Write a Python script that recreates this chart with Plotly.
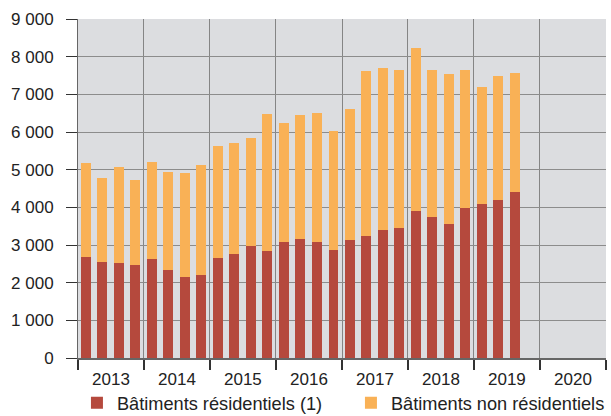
import plotly.graph_objects as go
from datetime import datetime

years = [2013, 2014, 2015, 2016, 2017, 2018, 2019]
quarters = [1, 2, 3, 4]

residentiels = [2680, 2550, 2520, 2470,
                2630, 2340, 2150, 2200,
                2655, 2760, 2970, 2840,
                3080, 3160, 3080, 2870,
                3130, 3240, 3400, 3450,
                3900, 3740, 3560, 3980,
                4090, 4195, 4405]
totaux = [5180, 4780, 5070, 4730,
          5200, 4940, 4910, 5125,
          5630, 5710, 5840, 6480,
          6240, 6450, 6505, 6030,
          6610, 7620, 7700, 7645,
          8230, 7645, 7540, 7645,
          7195, 7490, 7565]
non_residentiels = [t - r for t, r in zip(totaux, residentiels)]

periods = [(y, q) for y in years for q in quarters][:len(residentiels)]
x_dates = [datetime(y, 3 * (q - 1) + 2, 15) for y, q in periods]

bar_width_ms = 55 * 24 * 3600 * 1000

font_family = "Liberation Sans, Arial, sans-serif"
red = "#b5493d"
orange = "#f9b156"

fig = go.Figure()
fig.add_trace(go.Bar(x=x_dates, y=residentiels, name="Bâtiments résidentiels (1)",
                     marker=dict(color=red, line=dict(width=0)), width=bar_width_ms))
fig.add_trace(go.Bar(x=x_dates, y=non_residentiels, name="Bâtiments non résidentiels",
                     marker=dict(color=orange, line=dict(width=0)), width=bar_width_ms))

fig.update_layout(
    barmode="stack",
    width=611, height=416,
    margin=dict(l=78, r=5, t=19, b=58, autoexpand=False),
    paper_bgcolor="white",
    plot_bgcolor="#dcdde0",
    separators=", ",
    font=dict(family=font_family, size=17, color="#222222"),
    showlegend=True,
    legend=dict(orientation="h", x=-0.002, xanchor="left", y=-0.078, yanchor="top",
                font=dict(size=18.2, color="#222222"),
                entrywidth=229, entrywidthmode="pixels",
                traceorder="normal", bgcolor="rgba(0,0,0,0)"),
    xaxis=dict(
        type="date",
        range=[datetime(2013, 1, 1), datetime(2021, 1, 1)],
        dtick="M12", tick0="2013-01-01",
        ticklabelmode="period", tickformat="%Y",
        ticks="outside", ticklen=10, tickwidth=1.5, tickcolor="#333333",
        ticklabelstandoff=-5,
        showgrid=True, gridcolor="#858585", gridwidth=1,
        showline=True, linecolor="#666666", linewidth=2,
        tickfont=dict(size=17, color="#222222"),
        fixedrange=True,
    ),
    yaxis=dict(
        range=[0, 9000], dtick=1000, tick0=0,
        tickformat=",d",
        ticks="outside", ticklen=11, tickwidth=1, tickcolor="#333333",
        ticklabelstandoff=9,
        showgrid=True, gridcolor="#8c8c8c", gridwidth=1,
        showline=True, linecolor="#666666", linewidth=1,
        zeroline=False,
        tickfont=dict(size=17, color="#222222"),
        fixedrange=True,
    ),
    bargap=0,
)

fig.write_html("out.html", config={"displayModeBar": False},
               post_script="document.body.style.margin='0';")
